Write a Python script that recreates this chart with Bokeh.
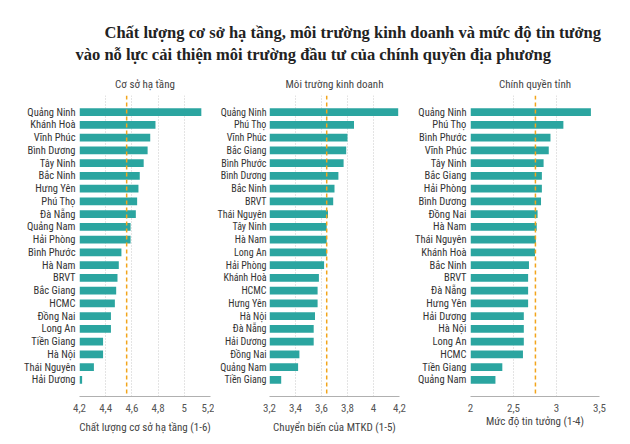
from bokeh.plotting import figure
from bokeh.layouts import column, row
from bokeh.models import Range1d, FactorRange, FixedTicker, Span
from bokeh.core.properties import value
from bokeh.embed import file_html
from bokeh.resources import INLINE

# ---------------- data ----------------
title_lines = [
    "Chất lượng cơ sở hạ tầng, môi trường kinh doanh và mức độ tin tưởng",
    "vào nỗ lực cải thiện môi trường đầu tư của chính quyền địa phương",
]
panel_titles = ["Cơ sở hạ tầng", "Môi trường kinh doanh", "Chính quyền tỉnh"]
axis_titles = ["Chất lượng cơ sở hạ tầng (1-6)", "Chuyển biến của MTKD (1-5)", "Mức độ tin tưởng (1-4)"]

infra_provinces = ["Quảng Ninh", "Khánh Hoà", "Vĩnh Phúc", "Bình Dương", "Tây Ninh", "Bắc Ninh",
                   "Hưng Yên", "Phú Thọ", "Đà Nẵng", "Quảng Nam", "Hải Phòng", "Bình Phước",
                   "Hà Nam", "BRVT", "Bắc Giang", "HCMC", "Đồng Nai", "Long An", "Tiền Giang",
                   "Hà Nội", "Thái Nguyên", "Hải Dương"]
infra_values = [5.13, 4.78, 4.74, 4.72, 4.69, 4.66, 4.65, 4.64, 4.63, 4.59, 4.59, 4.52,
                4.50, 4.49, 4.48, 4.47, 4.44, 4.44, 4.38, 4.38, 4.31, 4.22]
infra_avg = 4.56
infra_ticks = [4.2, 4.4, 4.6, 4.8, 5.0, 5.2]
infra_tick_labels = ["4,2", "4,4", "4,6", "4,8", "5", "5,2"]

biz_provinces = ["Quảng Ninh", "Phú Thọ", "Vĩnh Phúc", "Bắc Giang", "Bình Phước", "Bình Dương",
                 "Bắc Ninh", "BRVT", "Thái Nguyên", "Tây Ninh", "Hà Nam", "Long An", "Hải Phòng",
                 "Khánh Hoà", "HCMC", "Hưng Yên", "Hà Nội", "Đà Nẵng", "Hải Dương", "Đồng Nai",
                 "Quảng Nam", "Tiền Giang"]
biz_values = [4.19, 3.85, 3.80, 3.79, 3.77, 3.73, 3.70, 3.69, 3.65, 3.64, 3.64, 3.64, 3.62,
              3.58, 3.57, 3.57, 3.55, 3.54, 3.54, 3.43, 3.42, 3.29]
biz_avg = 3.64
biz_ticks = [3.2, 3.4, 3.6, 3.8, 4.0, 4.2]
biz_tick_labels = ["3,2", "3,4", "3,6", "3,8", "4", "4,2"]

gov_provinces = ["Quảng Ninh", "Phú Thọ", "Bình Phước", "Vĩnh Phúc", "Tây Ninh", "Bắc Giang",
                 "Hải Phòng", "Bình Dương", "Đồng Nai", "Hà Nam", "Thái Nguyên", "Khánh Hoà",
                 "Bắc Ninh", "BRVT", "Đà Nẵng", "Hưng Yên", "Hải Dương", "Hà Nội", "Long An",
                 "HCMC", "Tiền Giang", "Quảng Nam"]
gov_values = [3.40, 3.08, 2.93, 2.91, 2.85, 2.83, 2.83, 2.82, 2.78, 2.77, 2.76, 2.75,
              2.68, 2.67, 2.67, 2.67, 2.62, 2.62, 2.62, 2.61, 2.37, 2.29]
gov_avg = 2.755
gov_ticks = [2.0, 2.5, 3.0, 3.5]
gov_tick_labels = ["2", "2,5", "3", "3,5"]

# ---------------- style ----------------
BAR = "#2ba5a0"
AVG = "#f2a51c"
NARROW = "Liberation Sans Narrow, Roboto Condensed, Roboto, sans-serif"
HEADER_H = 92
PANEL_H = 344

panels_spec = [
    dict(cats=infra_provinces, vals=infra_values, avg=infra_avg, start=4.2, end=5.2,
         ticks=infra_ticks, labels=infra_tick_labels, xlabel=axis_titles[0],
         width=214, left=79, right=4, standoff=6, yfont="10.5px", ystand=4),
    dict(cats=biz_provinces, vals=biz_values, avg=biz_avg, start=3.2, end=4.2,
         ticks=biz_ticks, labels=biz_tick_labels, xlabel=axis_titles[1],
         width=194, left=55, right=9, standoff=6, yfont="10px", ystand=3),
    dict(cats=gov_provinces, vals=gov_values, avg=gov_avg, start=2.0, end=3.5,
         ticks=gov_ticks, labels=gov_tick_labels, xlabel=axis_titles[2],
         width=214, left=62, right=23, standoff=0, yfont="10.5px", ystand=4),
]


def make_panel(s):
    p = figure(width=s["width"], height=PANEL_H,
               y_range=FactorRange(factors=list(reversed(s["cats"])), range_padding=0.8,
                                   range_padding_units="absolute"),
               x_range=Range1d(s["start"], s["end"]),
               output_backend="svg", toolbar_location=None,
               min_border_left=s["left"], min_border_right=s["right"],
               min_border_top=3, min_border_bottom=37)
    p.hbar(y=s["cats"], left=s["start"], right=s["vals"], height=0.62,
           fill_color=BAR, line_color=None)
    p.add_layout(Span(location=s["avg"], dimension="height", line_color=AVG,
                      line_width=1.5, line_dash="4 3"))
    p.outline_line_color = None
    p.background_fill_color = "white"
    p.border_fill_color = "white"
    p.ygrid.grid_line_color = None
    p.xgrid.grid_line_color = "#c8c8c8"
    p.xgrid.grid_line_dash = "1 2"
    p.xaxis.ticker = FixedTicker(ticks=s["ticks"])
    p.xaxis.major_label_overrides = {t: l for t, l in zip(s["ticks"], s["labels"])}
    p.xaxis.axis_line_color = "#b0b0b0"
    p.xaxis.major_tick_line_color = None
    p.xaxis.minor_tick_line_color = None
    p.xaxis.major_label_standoff = 1
    p.xaxis.major_label_text_font = NARROW
    p.xaxis.major_label_text_font_size = "11px"
    p.xaxis.major_label_text_color = "#555555"
    p.xaxis.axis_label = s["xlabel"]
    p.xaxis.axis_label_text_font = NARROW
    p.xaxis.axis_label_text_font_style = "normal"
    p.xaxis.axis_label_text_font_size = "11px"
    p.xaxis.axis_label_text_color = "#444444"
    p.xaxis.axis_label_standoff = s["standoff"]
    p.yaxis.axis_line_color = None
    p.yaxis.major_tick_line_color = None
    p.yaxis.minor_tick_line_color = None
    p.yaxis.major_tick_out = 0
    p.yaxis.major_label_standoff = s["ystand"]
    p.yaxis.major_label_text_font = NARROW
    p.yaxis.major_label_text_font_size = s["yfont"]
    p.yaxis.major_label_text_color = "#333333"
    return p


panels = [make_panel(s) for s in panels_spec]

# header with main title and panel titles
total_w = sum(s["width"] for s in panels_spec)
h = figure(width=total_w, height=HEADER_H, x_range=Range1d(0, total_w),
           y_range=Range1d(HEADER_H, 0), x_axis_type=None, y_axis_type=None,
           output_backend="svg", toolbar_location=None,
           min_border=0)
h.outline_line_color = None
h.grid.grid_line_color = None
h.text(x=[104, 75], y=[32, 54], text=title_lines, text_font=value("Liberation Serif"),
       text_font_style="bold", text_font_size="16.5px", text_color="#222222",
       text_baseline="alphabetic", text_align="left")

centers = []
offset = 0
for s in panels_spec:
    frame_w = s["width"] - s["left"] - s["right"]
    centers.append(offset + s["left"] + frame_w / 2)
    offset += s["width"]
h.text(x=centers, y=[84] * 3, text=panel_titles, text_font=value(NARROW),
       text_font_size="11px", text_color="#444444", text_baseline="middle",
       text_align="center")

layout = column(h, row(*panels))
open("out.html", "w").write(file_html(layout, INLINE))
